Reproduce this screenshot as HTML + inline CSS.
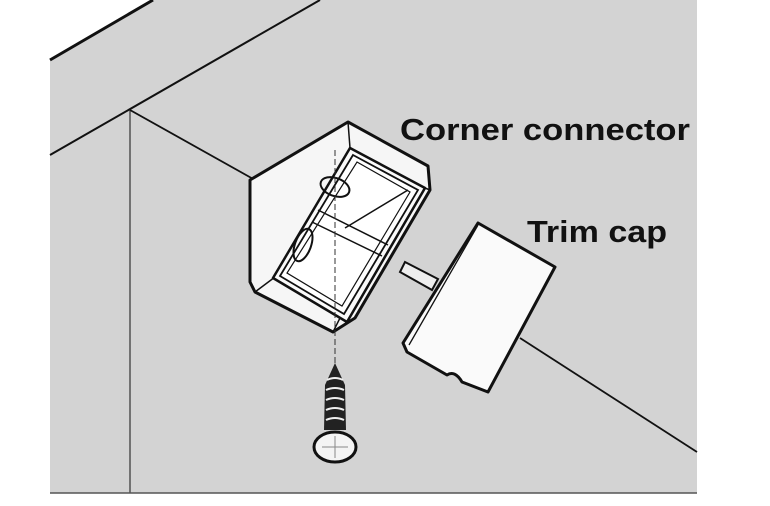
<!DOCTYPE html>
<html><head><style>body{margin:0;background:#fff}svg{display:block}</style></head><body>
<svg width="770" height="506" viewBox="0 0 770 506" xmlns="http://www.w3.org/2000/svg">
<rect x="50" y="0" width="647" height="493" fill="#d3d3d3"/>
<polygon points="50,0 153,0 50,60" fill="#fff"/>
<line x1="50" y1="60" x2="153" y2="0" stroke="#111" stroke-width="3"/>
<line x1="50" y1="155" x2="320" y2="0" stroke="#111" stroke-width="2"/>
<line x1="130" y1="110" x2="130" y2="493" stroke="#333" stroke-width="1.2"/>
<line x1="130" y1="110" x2="255" y2="180" stroke="#111" stroke-width="1.8"/>
<line x1="520" y1="338" x2="697" y2="452" stroke="#111" stroke-width="1.8"/>
<line x1="50" y1="493" x2="697" y2="493" stroke="#555" stroke-width="1.5"/>
<!-- peg -->
<polygon points="405,262 438,279 432,290 400,272" fill="#eee" stroke="#111" stroke-width="2"/>
<!-- corner connector -->
<polygon points="250,180 348,122 428,166 430,190 355,318 333,332 255,292 250,282" fill="#f6f6f6" stroke="#111" stroke-width="3" stroke-linejoin="round"/>
<line x1="348" y1="122" x2="350" y2="148" stroke="#111" stroke-width="1.5"/>
<line x1="430" y1="190" x2="425" y2="188" stroke="#111" stroke-width="1.5"/>
<line x1="333" y1="332" x2="340" y2="318" stroke="#111" stroke-width="1.5"/>
<line x1="255" y1="292" x2="275" y2="277" stroke="#111" stroke-width="1.5"/>
<polygon points="350,148 425,188 347,322 273,278" fill="#fafafa" stroke="#111" stroke-width="2.5" stroke-linejoin="round"/>
<polygon points="353,155 418,190 344,314 280,276" fill="#fff" stroke="#111" stroke-width="1.8"/>
<polygon points="357,162 410,192 342,306 287,273" fill="none" stroke="#111" stroke-width="1.2"/>
<line x1="318" y1="210" x2="388" y2="245" stroke="#111" stroke-width="1.5"/>
<line x1="312" y1="222" x2="382" y2="256" stroke="#111" stroke-width="1.5"/>
<line x1="345" y1="228" x2="408" y2="190" stroke="#111" stroke-width="1.5"/>
<ellipse cx="335" cy="187" rx="15" ry="9" transform="rotate(20 335 187)" fill="none" stroke="#111" stroke-width="2"/>
<ellipse cx="303" cy="245" rx="8" ry="17" transform="rotate(20 303 245)" fill="none" stroke="#111" stroke-width="2"/>
<line x1="335" y1="150" x2="335" y2="365" stroke="#333" stroke-width="1" stroke-dasharray="6,3"/>
<!-- trim cap -->
<path d="M478,223 L555,267 L488,392 L462,382 Q455,370 447,375 L407,352 L403,343 Z" fill="#fafafa" stroke="#111" stroke-width="3" stroke-linejoin="round"/>
<line x1="478" y1="225" x2="409" y2="345" stroke="#111" stroke-width="1.3"/>
<!-- screw -->
<path d="M335,363 L345,385 L346,430 L324,430 L325,385 Z" fill="#222"/>
<g stroke="#eee" stroke-width="2" fill="none">
<path d="M327,380 Q335,376 343,380"/><path d="M326,390 Q335,386 344,390"/><path d="M326,400 Q335,396 344,400"/><path d="M326,410 Q335,406 344,410"/><path d="M326,420 Q335,416 344,420"/>
</g>
<ellipse cx="335" cy="447" rx="21" ry="15" fill="#f4f4f4" stroke="#111" stroke-width="3"/>
<line x1="322" y1="447" x2="348" y2="447" stroke="#888" stroke-width="1"/>
<line x1="335" y1="436" x2="335" y2="458" stroke="#888" stroke-width="1"/>
<text x="400" y="140" font-family="Liberation Sans, sans-serif" font-weight="bold" font-size="31" textLength="290" lengthAdjust="spacingAndGlyphs" fill="#111">Corner connector</text>
<text x="527" y="242" font-family="Liberation Sans, sans-serif" font-weight="bold" font-size="31" textLength="140" lengthAdjust="spacingAndGlyphs" fill="#111">Trim cap</text>
</svg>
</body></html>
